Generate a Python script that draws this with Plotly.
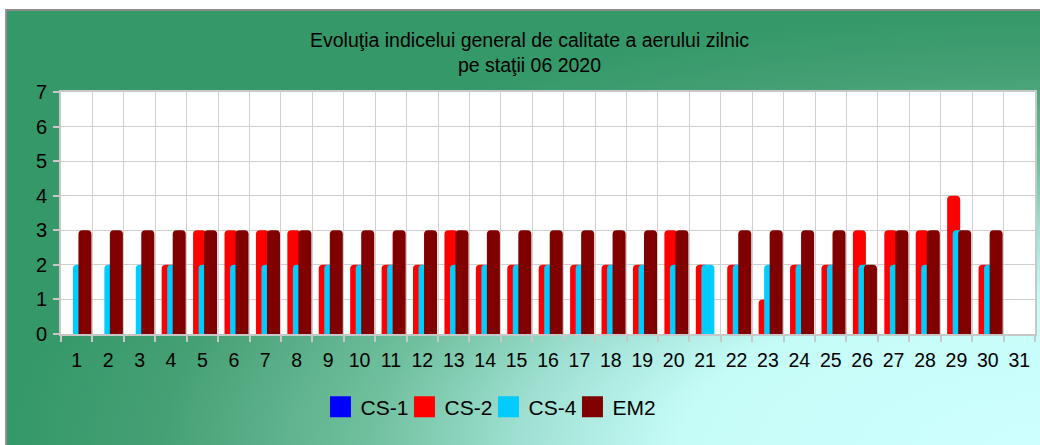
import base64
import plotly.graph_objects as go

days = list(range(1, 32))
day_labels = [str(d) for d in days]
y_ticks = [0, 1, 2, 3, 4, 5, 6, 7]

cs1 = [None] * 31
cs2 = [None, None, None, 2, 3, 3, 3, 3, 2, 2, 2, 2, 3, 2, 2, 2, 2, 2, 2, 3,
       2, 2, 1, 2, 2, 3, 3, 3, 4, 2, None]
cs4 = [2, 2, 2, 2, 2, 2, 2, 2, 2, 2, 2, 2, 2, 2, 2, 2, 2, 2, 2, 2,
       2, 2, 2, 2, 2, 2, 2, 2, 3, 2, None]
em2 = [3, 3, 3, 3, 3, 3, 3, 3, 3, 3, 3, 3, 3, 3, 3, 3, 3, 3, 3, 3,
       None, 3, 3, 3, 3, 2, 3, 3, 3, 3, None]

series = [
    ("CS-1", cs1, "#0000ff"),
    ("CS-2", cs2, "#ff0000"),
    ("CS-4", cs4, "#00ccff"),
    ("EM2", em2, "#800000"),
]

W, H = 1040, 445
L, R, T, B = 61, 3, 92, 111
PW, PH = W - L - R, H - T - B

bar_w = 0.415
offsets = [-0.47, -0.296, -0.12, 0.055]

fig = go.Figure()
for (name, vals, col), off in zip(series, offsets):
    fig.add_trace(go.Bar(
        x=days, y=vals, name=name, width=bar_w, offset=off,
        marker=dict(color=col, line=dict(width=0)), showlegend=False,
    ))
for name, vals, col in series:
    fig.add_trace(go.Scatter(
        x=[None], y=[None], mode="markers", name=name,
        marker=dict(symbol="square", size=16, color=col,
                    line=dict(color=col, width=5)),
    ))

svg = f'''<svg xmlns="http://www.w3.org/2000/svg" width="1040" height="440" viewBox="0 0 1040 440" preserveAspectRatio="none">
<defs><radialGradient id="g" cx="1" cy="1" r="1" fx="1" fy="1" gradientUnits="objectBoundingBox">
<stop offset="0" stop-color="rgb(205,255,255)"/>
<stop offset="0.35" stop-color="rgb(198,252,248)"/>
<stop offset="0.5" stop-color="rgb(160,225,212)"/>
<stop offset="0.65" stop-color="rgb(112,192,158)"/>
<stop offset="0.85" stop-color="rgb(70,160,117)"/>
<stop offset="1" stop-color="rgb(52,152,105)"/>
</radialGradient></defs>
<rect x="0" y="0" width="1040" height="440" fill="url(#g)"/></svg>'''
src = "data:image/svg+xml;base64," + base64.b64encode(svg.encode()).decode()

fx0, fy0 = 6, 10
fig.add_layout_image(dict(
    source=src, xref="paper", yref="paper",
    x=(fx0 - L) / PW, y=(H - B - fy0) / PH,
    sizex=(W + 5 - fx0) / PW, sizey=(H + 5 - fy0) / PH,
    xanchor="left", yanchor="top", sizing="stretch", layer="below",
))
fig.add_shape(type="rect", xref="paper", yref="paper",
              x0=(fx0 - L) / PW, x1=(W + 10 - L) / PW,
              y0=(H - B - (H + 10)) / PH, y1=(H - B - fy0) / PH,
              line=dict(color="#8c8c8c", width=2), fillcolor="rgba(0,0,0,0)",
              layer="below")
fig.add_shape(type="rect", xref="paper", yref="paper",
              x0=0, x1=1, y0=0, y1=1,
              line=dict(width=0), fillcolor="white", layer="below")

fig.add_annotation(
    text="Evoluţia indicelui general de calitate a aerului zilnic<br>pe staţii 06 2020",
    xref="paper", yref="paper", x=(530 - L) / PW, y=(H - B - 52.5) / PH,
    xanchor="center", yanchor="middle", showarrow=False,
    font=dict(family="Liberation Sans, Arial", size=19.5, color="black"),
)

fig.update_layout(
    width=W, height=H,
    margin=dict(l=L, r=R, t=T, b=B, pad=0),
    paper_bgcolor="white", plot_bgcolor="white",
    barmode="overlay", barcornerradius=4,
    font=dict(family="Liberation Sans, Arial", color="black"),
    legend=dict(orientation="h", x=(321 - L) / PW, xanchor="left",
                y=(H - B - 407) / PH, yanchor="middle",
                font=dict(size=21), bgcolor="rgba(0,0,0,0)",
                itemwidth=30, tracegroupgap=0,
                entrywidth=39, entrywidthmode="pixels"),
    xaxis=dict(
        range=[0.5, 31.5], tickmode="array", tickvals=days, ticktext=day_labels,
        ticks="", showgrid=False, zeroline=False,
        showline=True, linecolor="#c8c8c8", linewidth=2, mirror=True,
        tickfont=dict(size=19.5), ticklabelstandoff=8,
        minor=dict(tickmode="array", tickvals=[d - 0.5 for d in days] + [31.5],
                   showgrid=True, gridcolor="#d0d0d0", gridwidth=1,
                   ticks="outside", ticklen=6, tickcolor="#c8c8c8", tickwidth=2),
    ),
    yaxis=dict(
        range=[0, 7], tickmode="array", tickvals=y_ticks,
        ticks="outside", ticklen=6, tickcolor="#c8c8c8", tickwidth=2,
        showgrid=True, gridcolor="#d0d0d0", gridwidth=1, zeroline=False,
        showline=True, linecolor="#c8c8c8", linewidth=2, mirror=True,
        tickfont=dict(size=20), ticklabelstandoff=2,
    ),
)

fig.write_html("out.html", config={"displayModeBar": False},
               post_script="document.body.style.margin='0';")
